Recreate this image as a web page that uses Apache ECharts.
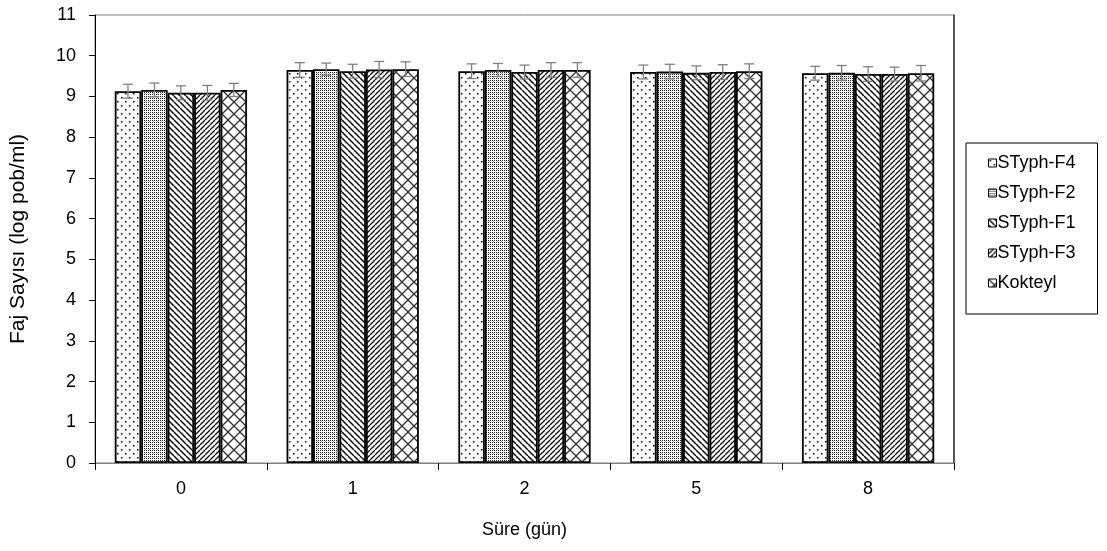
<!DOCTYPE html>
<html>
<head>
<meta charset="utf-8">
<script src="https://cdn.jsdelivr.net/npm/echarts@6/dist/echarts.min.js"></script>
<style>html,body{margin:0;padding:0;background:#fff;}#c{width:1107px;height:551px;}</style>
</head>
<body>
<div id="c"></div>
<script>
const categories = ['0', '1', '2', '5', '8'];
const seriesNames = ['STyph-F4', 'STyph-F2', 'STyph-F1', 'STyph-F3', 'Kokteyl'];
const valuesF4 = [9.13, 9.65, 9.62, 9.60, 9.57];
const valuesF2 = [9.16, 9.67, 9.65, 9.61, 9.58];
const valuesF1 = [9.09, 9.62, 9.60, 9.58, 9.55];
const valuesF3 = [9.09, 9.66, 9.65, 9.60, 9.55];
const valuesKokteyl = [9.16, 9.67, 9.65, 9.62, 9.57];
const errF4 = [0.17, 0.18, 0.18, 0.17, 0.17];
const errF2 = [0.17, 0.15, 0.16, 0.18, 0.18];
const errF1 = [0.17, 0.17, 0.17, 0.17, 0.18];
const errF3 = [0.18, 0.20, 0.18, 0.18, 0.17];
const errKokteyl = [0.16, 0.18, 0.18, 0.18, 0.19];
const yTicks = [0, 11, 1];

const allValues = [valuesF4, valuesF2, valuesF1, valuesF3, valuesKokteyl];
const allErrs = [errF4, errF2, errF1, errF3, errKokteyl];

function makePattern(kind) {
  const c = document.createElement('canvas');
  let s;
  const ctx0 = () => c.getContext('2d');
  if (kind === 0) { // sparse dots
    s = 8; c.width = s; c.height = s;
    const ctx = ctx0(); ctx.fillStyle = '#fff'; ctx.fillRect(0,0,s,s);
    ctx.fillStyle = '#000';
    ctx.fillRect(1,1,1.5,1.5); ctx.fillRect(5,5,1.5,1.5);
  } else if (kind === 1) { // dense dots
    s = 4; c.width = s; c.height = s;
    const ctx = ctx0(); ctx.fillStyle = '#fff'; ctx.fillRect(0,0,s,s);
    ctx.fillStyle = '#222';
    ctx.fillRect(0,0,1,1); ctx.fillRect(2,2,1,1); ctx.fillRect(2,0,1,1); ctx.fillRect(0,2,1,1);
    ctx.fillStyle = '#999'; ctx.fillRect(1,1,1,1);
  } else if (kind === 2) { // descending diagonals "\"
    s = 6; c.width = s; c.height = s;
    const ctx = ctx0(); ctx.fillStyle = '#fff'; ctx.fillRect(0,0,s,s);
    ctx.strokeStyle = '#000'; ctx.lineWidth = 1.4;
    for (let k = -1; k <= 1; k++) { ctx.beginPath(); ctx.moveTo(k*s, 0); ctx.lineTo(k*s + s, s); ctx.stroke(); }
  } else if (kind === 3) { // ascending diagonals "/"
    s = 5; c.width = s; c.height = s;
    const ctx = ctx0(); ctx.fillStyle = '#fff'; ctx.fillRect(0,0,s,s);
    ctx.strokeStyle = '#111'; ctx.lineWidth = 1.3;
    for (let k = -1; k <= 1; k++) { ctx.beginPath(); ctx.moveTo(k*s, s); ctx.lineTo(k*s + s, 0); ctx.stroke(); }
  } else { // diamond lattice
    s = 12; c.width = s; c.height = s;
    const ctx = ctx0(); ctx.fillStyle = '#fff'; ctx.fillRect(0,0,s,s);
    ctx.strokeStyle = '#333'; ctx.lineWidth = 1.3;
    for (let k = -1; k <= 1; k++) {
      ctx.beginPath(); ctx.moveTo(k*s, 0); ctx.lineTo(k*s + s, s); ctx.stroke();
      ctx.beginPath(); ctx.moveTo(k*s, s); ctx.lineTo(k*s + s, 0); ctx.stroke();
    }
  }
  return c;
}

const FONT = 'Liberation Sans, Arial, sans-serif';
const gapRatio = 0.23;
const n = seriesNames.length;

const barSeries = seriesNames.map((name, i) => ({
  name: name,
  type: 'bar',
  data: allValues[i],
  barGap: '0%',
  barCategoryGap: '23%',
  itemStyle: {
    color: { image: makePattern(i), repeat: 'repeat' },
    borderColor: '#000',
    borderWidth: 1.8
  },
  emphasis: { disabled: true },
  z: 2
}));

const errSeries = seriesNames.map((name, i) => ({
  type: 'custom',
  name: name + '-err',
  z: 3,
  silent: true,
  data: allValues[i].map((v, j) => [j, v, allErrs[i][j]]),
  renderItem: function (params, api) {
    const idx = api.value(0);
    const v = api.value(1);
    const e = api.value(2);
    const band = api.size([1, 0])[0];
    const bw = band * (1 - gapRatio) / n;
    const center = api.coord([idx, v])[0] + (i - (n - 1) / 2) * bw;
    const top = api.coord([idx, v + e])[1];
    const bot = api.coord([idx, v - e])[1];
    const cap = 5;
    const st = { stroke: '#808080', lineWidth: 1.3 };
    return {
      type: 'group',
      children: [
        { type: 'line', shape: { x1: center, y1: top, x2: center, y2: bot }, style: st },
        { type: 'line', shape: { x1: center - cap, y1: top, x2: center + cap, y2: top }, style: st },
        { type: 'line', shape: { x1: center - cap, y1: bot, x2: center + cap, y2: bot }, style: st }
      ]
    };
  }
}));

const chart = echarts.init(document.getElementById('c'), null, { renderer: 'canvas' });
chart.setOption({
  backgroundColor: '#fff',
  animation: false,
  grid: { left: 95, right: 153, top: 15, bottom: 88, containLabel: false, outerBoundsMode: 'none', show: true, borderColor: '#808080', borderWidth: 1 },
  legend: {
    orient: 'vertical',
    left: 966, top: 143,
    data: seriesNames,
    icon: 'rect',
    itemWidth: 8, itemHeight: 8,
    itemGap: 12,
    padding: [11, 22, 22, 22],
    borderColor: '#000', borderWidth: 1,
    textStyle: { fontFamily: FONT, fontSize: 18, color: '#000', padding: [0, 0, 0, -4] },
    itemStyle: { borderColor: '#000', borderWidth: 1 }
  },
  xAxis: [{
    type: 'category',
    data: categories,
    name: 'Süre (gün)',
    nameLocation: 'middle',
    nameGap: 58,
    nameTextStyle: { fontFamily: FONT, fontSize: 18, color: '#000' },
    axisLine: { lineStyle: { color: '#808080', width: 1 } },
    axisTick: { show: true, length: 7, lineStyle: { color: '#000' } },
    axisLabel: { fontFamily: FONT, fontSize: 18, color: '#000', margin: 17 },
    splitLine: { show: false }
  }],
  yAxis: [{
    type: 'value',
    min: yTicks[0], max: yTicks[1], interval: yTicks[2],
    name: 'Faj Sayısı (log pob/ml)',
    nameLocation: 'middle',
    nameGap: 66,
    nameTextStyle: { fontFamily: FONT, fontSize: 21, color: '#000' },
    axisLine: { show: true, lineStyle: { color: '#000', width: 1 } },
    axisTick: { show: true, length: 6, lineStyle: { color: '#000' } },
    axisLabel: { fontFamily: FONT, fontSize: 18, color: '#000', margin: 19 },
    splitLine: { show: false }
  }, {
    type: 'value',
    position: 'right',
    min: yTicks[0], max: yTicks[1], interval: yTicks[2],
    axisLine: { show: true, lineStyle: { color: '#333', width: 1.5 } },
    axisTick: { show: false },
    axisLabel: { show: false },
    splitLine: { show: false }
  }],
  series: barSeries.concat(errSeries)
});
</script>
</body>
</html>
